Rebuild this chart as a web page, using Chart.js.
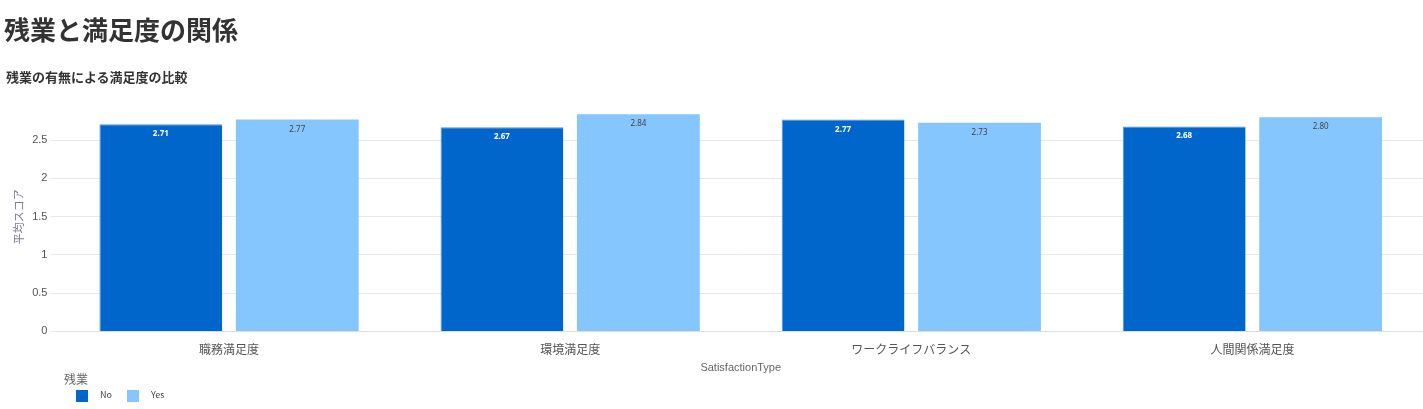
<!DOCTYPE html><html><head><meta charset="utf-8">
<script src="https://cdn.jsdelivr.net/npm/chart.js@4/dist/chart.umd.min.js"></script>
<style>body{margin:0;width:1423px;height:409px;overflow:hidden;background:#fff;font-family:"Noto Sans CJK JP","Noto Sans",sans-serif;position:relative}
#t{position:absolute;left:4px;top:10px;font-size:26px;font-weight:bold;color:#333}
#s{position:absolute;left:6px;top:67px;font-size:13px;font-weight:bold;color:#333}
#lg{position:absolute;left:64px;top:370px;font-size:12px;color:#666}
.it{position:absolute;top:18px;font-size:9px;color:#444;white-space:nowrap}
.sw{display:inline-block;width:12px;height:12px;vertical-align:middle;margin-right:12px}
canvas{position:absolute;left:0;top:0}</style></head><body>
<canvas id="c" width="1423" height="409"></canvas>
<div id="t">残業と満足度の関係</div><div id="s">残業の有無による満足度の比較</div>
<div id="lg">残業<div class="it" style="left:12px"><span class="sw" style="background:#0066cc"></span>No</div><div class="it" style="left:63px"><span class="sw" style="background:#85c6ff"></span>Yes</div></div>
<script>
const categories=["職務満足度","環境満足度","ワークライフバランス","人間関係満足度"];
const noValues=[2.71,2.67,2.77,2.68];
const yesValues=[2.77,2.84,2.73,2.80];
const labelPlugin={id:'lbl',afterDatasetsDraw(ch){const x=ch.ctx;ch.data.datasets.forEach((d,i)=>{ch.getDatasetMeta(i).data.forEach((b,j)=>{x.save();x.font=(i==0?'bold ':'')+'8px "Noto Sans"';x.fillStyle=i==0?'#fff':'#444';x.textAlign='center';x.fillText(d.data[j].toFixed(2),b.x,b.y+12);x.restore();});});}};
new Chart(document.getElementById('c'),{type:'bar',data:{labels:categories,datasets:[
{label:'No',data:noValues,backgroundColor:'#0066cc',borderColor:'#4d94db',borderWidth:{top:1,left:1,right:0,bottom:0}},
{label:'Yes',data:yesValues,backgroundColor:'#85c6ff',borderColor:'#85c6ff',borderWidth:0}]},
options:{responsive:false,animation:false,layout:{padding:{top:102,bottom:30,right:0,left:8}},
plugins:{legend:{display:false},tooltip:{enabled:false}},
scales:{x:{grid:{display:false},border:{color:'#ddd'},categoryPercentage:0.8,barPercentage:1,ticks:{color:'#555',font:{size:12,family:'"Noto Sans CJK JP"'}},title:{display:true,text:'SatisfactionType',color:'#666',font:{size:11},padding:{top:2}}},
y:{min:0,max:3,afterBuildTicks(a){a.ticks=[0,0.5,1,1.5,2,2.5].map(v=>({value:v}));},grid:{color:'#e8e8e8'},border:{display:false},ticks:{color:'#555',font:{size:11},callback:v=>String(v)},title:{display:true,text:'平均スコア',color:'#7a7a9a',font:{size:11,family:'"Noto Sans CJK JP"'}}}}},
plugins:[labelPlugin]});
</script></body></html>
